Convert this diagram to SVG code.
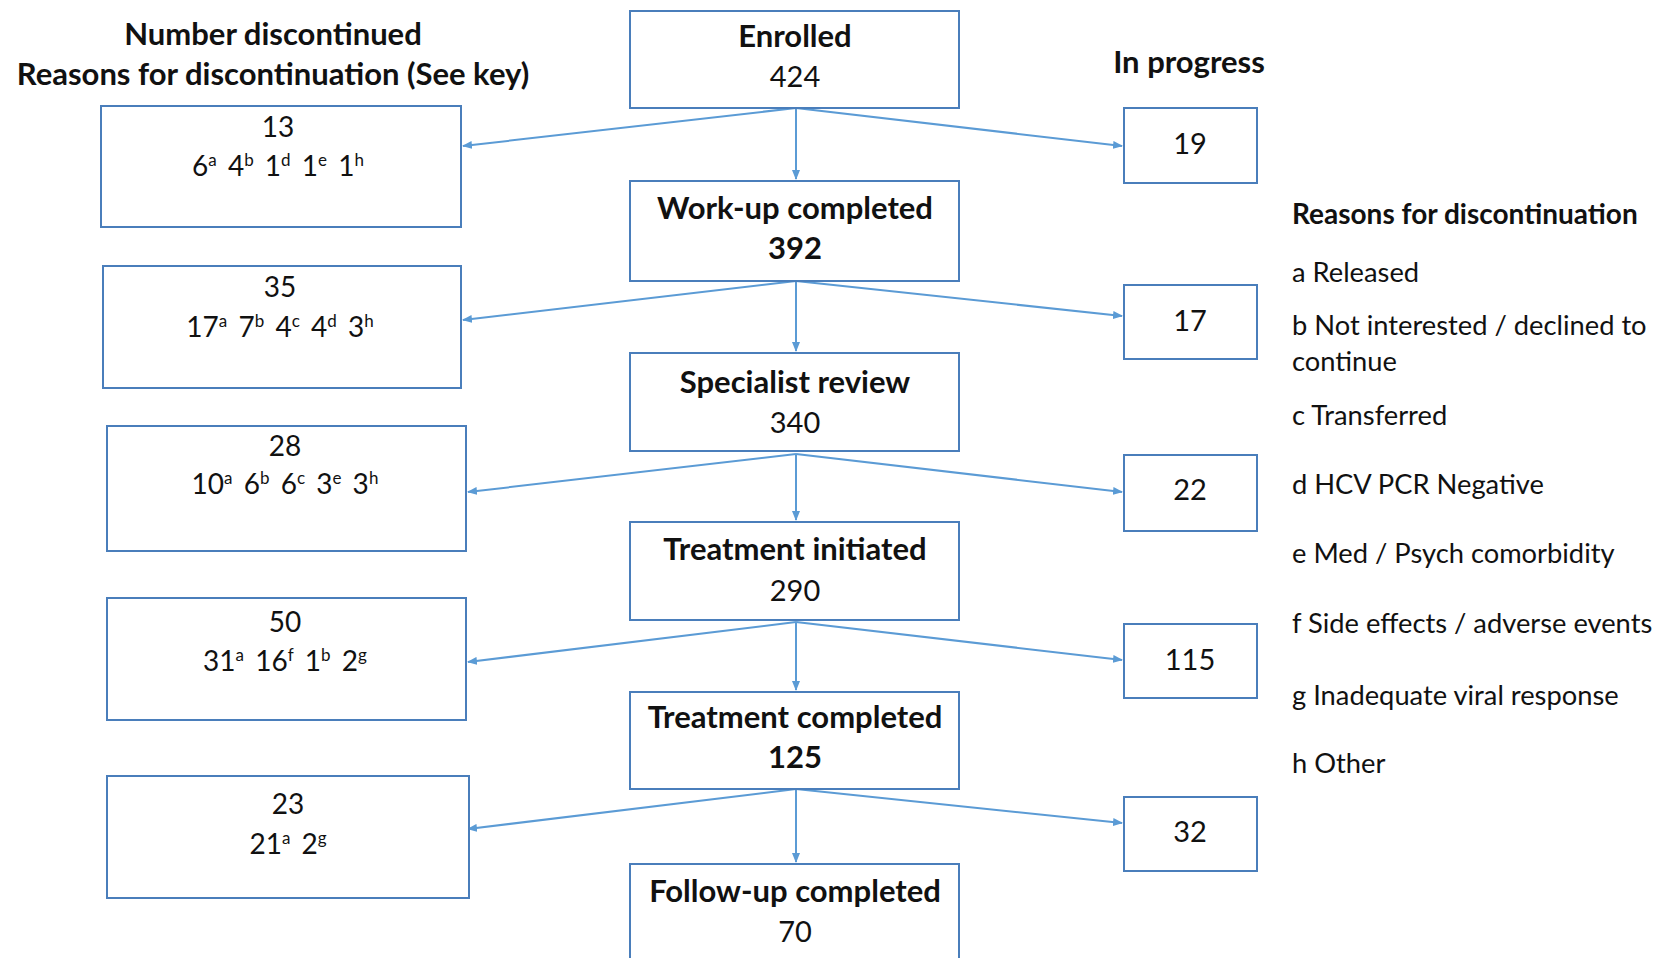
<svg xmlns="http://www.w3.org/2000/svg" width="1666" height="958" viewBox="0 0 1666 958">
<style>
text{font-family:Lato,"Open Sans","Liberation Sans",sans-serif;fill:#111;font-size:28px}
.b{font-weight:bold}
.h{font-size:31px}
.n{font-size:29px}
.c{text-anchor:middle}
.lg{font-size:27.3px}
.box{fill:#fff;stroke:#4A7EBB;stroke-width:2}
.sup{font-size:17px}
.r{word-spacing:4px}
.con line{stroke:#5B9BD5;stroke-width:2;marker-end:url(#ah)}
</style>
<defs>
<marker id="ah" markerWidth="10" markerHeight="8" refX="9" refY="4" orient="auto" markerUnits="userSpaceOnUse">
<path d="M0,0 L10,4 L0,8 Z" fill="#5B9BD5"/>
</marker>
</defs>
<rect width="1666" height="958" fill="#fff"/>
<g id="headers">
<text class="b c h" x="273" y="45">Number discontinued</text>
<text class="b c h" x="273" y="85">Reasons for discontinuation (See key)</text>
<text class="b c h" x="1189" y="73">In progress</text>
</g>
<g id="connectors" class="con">
<line x1="796" y1="108" x2="796" y2="179"/>
<line x1="796" y1="108" x2="463" y2="146"/>
<line x1="796" y1="108" x2="1122" y2="146"/>
<line x1="796" y1="281" x2="796" y2="351"/>
<line x1="796" y1="281" x2="463" y2="320"/>
<line x1="796" y1="281" x2="1122" y2="316"/>
<line x1="796" y1="454" x2="796" y2="520"/>
<line x1="796" y1="454" x2="468" y2="492"/>
<line x1="796" y1="454" x2="1122" y2="492"/>
<line x1="796" y1="622" x2="796" y2="690"/>
<line x1="796" y1="622" x2="468" y2="662"/>
<line x1="796" y1="622" x2="1122" y2="660"/>
<line x1="796" y1="789" x2="796" y2="862"/>
<line x1="796" y1="789" x2="468" y2="829"/>
<line x1="796" y1="789" x2="1122" y2="823"/>
</g>
<g id="enrolled">
<rect class="box" x="630" y="11" width="329" height="97"/>
<text class="b c h" x="795" y="47">Enrolled</text>
<text class="c n" x="795" y="87">424</text>
</g>
<g id="workup">
<rect class="box" x="630" y="181" width="329" height="100"/>
<text class="b c h" x="795" y="219">Work-up completed</text>
<text class="b c h" x="795" y="259">392</text>
</g>
<g id="specialist">
<rect class="box" x="630" y="353" width="329" height="98"/>
<text class="b c h" x="795" y="393">Specialist review</text>
<text class="c n" x="795" y="433">340</text>
</g>
<g id="txinit">
<rect class="box" x="630" y="522" width="329" height="98"/>
<text class="b c h" x="795" y="560">Treatment initiated</text>
<text class="c n" x="795" y="601">290</text>
</g>
<g id="txcomp">
<rect class="box" x="630" y="692" width="329" height="97"/>
<text class="b c h" x="795" y="728">Treatment completed</text>
<text class="b c h" x="795" y="768">125</text>
</g>
<g id="followup">
<rect class="box" x="630" y="864" width="329" height="110"/>
<text class="b c h" x="795" y="902">Follow-up completed</text>
<text class="c n" x="795" y="942">70</text>
</g>
<g id="prog19"><rect class="box" x="1124" y="108" width="133" height="75"/><text class="c n" x="1190" y="154">19</text></g>
<g id="prog17"><rect class="box" x="1124" y="285" width="133" height="74"/><text class="c n" x="1190" y="331">17</text></g>
<g id="prog22"><rect class="box" x="1124" y="455" width="133" height="76"/><text class="c n" x="1190" y="500">22</text></g>
<g id="prog115"><rect class="box" x="1124" y="624" width="133" height="74"/><text class="c n" x="1190" y="670">115</text></g>
<g id="prog32"><rect class="box" x="1124" y="797" width="133" height="74"/><text class="c n" x="1190" y="842">32</text></g>
<g id="disc13">
<rect class="box" x="101" y="106" width="360" height="121"/>
<text class="c" x="278" y="137">13</text>
<text class="c r" x="278" y="176">6<tspan class="sup" dy="-10">a</tspan><tspan dy="10"> 4</tspan><tspan class="sup" dy="-10">b</tspan><tspan dy="10"> 1</tspan><tspan class="sup" dy="-10">d</tspan><tspan dy="10"> 1</tspan><tspan class="sup" dy="-10">e</tspan><tspan dy="10"> 1</tspan><tspan class="sup" dy="-10">h</tspan></text>
</g>
<g id="disc35">
<rect class="box" x="103" y="266" width="358" height="122"/>
<text class="c" x="280" y="297">35</text>
<text class="c r" x="280" y="337">17<tspan class="sup" dy="-10">a</tspan><tspan dy="10"> 7</tspan><tspan class="sup" dy="-10">b</tspan><tspan dy="10"> 4</tspan><tspan class="sup" dy="-10">c</tspan><tspan dy="10"> 4</tspan><tspan class="sup" dy="-10">d</tspan><tspan dy="10"> 3</tspan><tspan class="sup" dy="-10">h</tspan></text>
</g>
<g id="disc28">
<rect class="box" x="107" y="426" width="359" height="125"/>
<text class="c" x="285" y="456">28</text>
<text class="c r" x="285" y="494">10<tspan class="sup" dy="-10">a</tspan><tspan dy="10"> 6</tspan><tspan class="sup" dy="-10">b</tspan><tspan dy="10"> 6</tspan><tspan class="sup" dy="-10">c</tspan><tspan dy="10"> 3</tspan><tspan class="sup" dy="-10">e</tspan><tspan dy="10"> 3</tspan><tspan class="sup" dy="-10">h</tspan></text>
</g>
<g id="disc50">
<rect class="box" x="107" y="598" width="359" height="122"/>
<text class="c" x="285" y="632">50</text>
<text class="c r" x="285" y="671">31<tspan class="sup" dy="-10">a</tspan><tspan dy="10"> 16</tspan><tspan class="sup" dy="-10">f</tspan><tspan dy="10"> 1</tspan><tspan class="sup" dy="-10">b</tspan><tspan dy="10"> 2</tspan><tspan class="sup" dy="-10">g</tspan></text>
</g>
<g id="disc23">
<rect class="box" x="107" y="776" width="362" height="122"/>
<text class="c" x="288" y="814">23</text>
<text class="c r" x="288" y="854">21<tspan class="sup" dy="-10">a</tspan><tspan dy="10"> 2</tspan><tspan class="sup" dy="-10">g</tspan></text>
</g>
<g id="legend">
<text class="b" x="1292" y="224">Reasons for discontinuation</text>
<text class="lg" x="1292" y="282">a Released</text>
<text class="lg" x="1292" y="335">b Not interested / declined to</text>
<text class="lg" x="1292" y="371">continue</text>
<text class="lg" x="1292" y="425">c Transferred</text>
<text class="lg" x="1292" y="494">d HCV PCR Negative</text>
<text class="lg" x="1292" y="563">e Med / Psych comorbidity</text>
<text class="lg" x="1292" y="633">f Side effects / adverse events</text>
<text class="lg" x="1292" y="705">g Inadequate viral response</text>
<text class="lg" x="1292" y="773">h Other</text>
</g>
</svg>
